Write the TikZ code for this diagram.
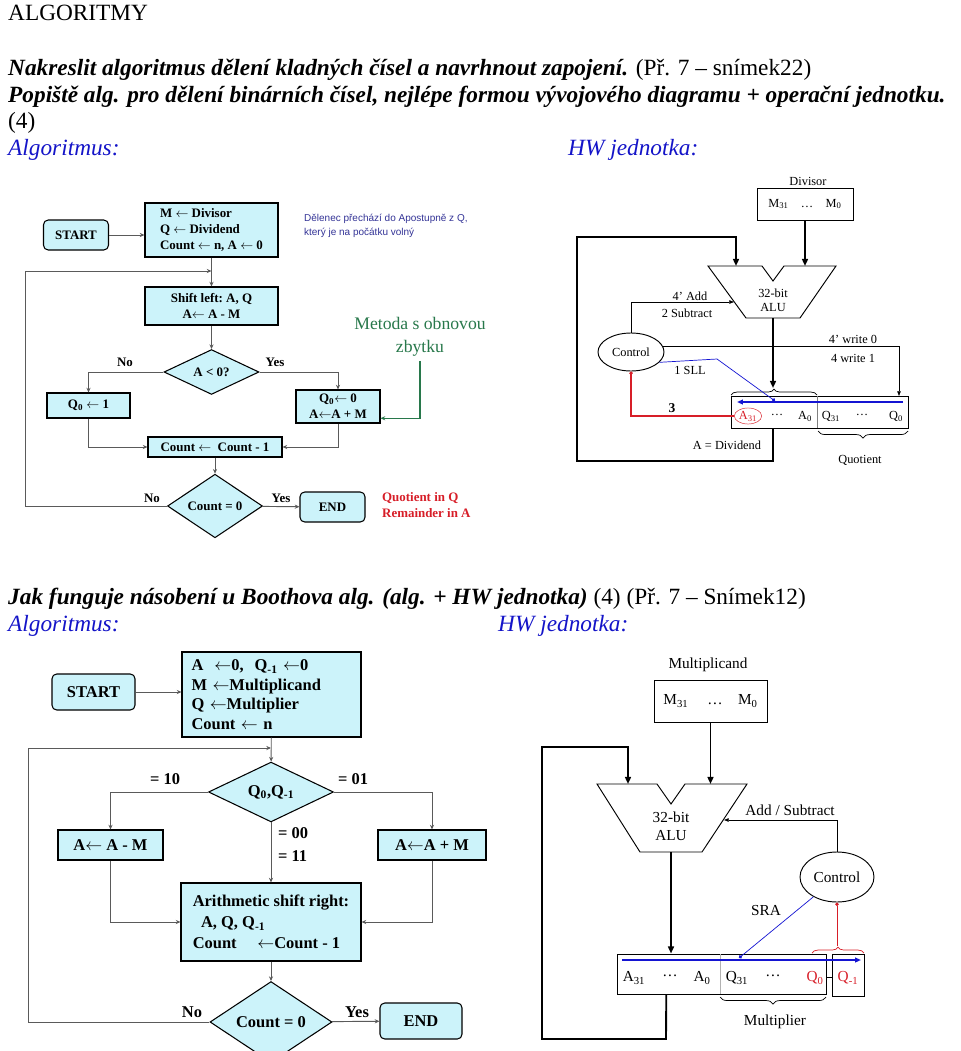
\documentclass[tikz,border=0pt]{standalone}
\usepackage{fontspec}
\setmainfont{Liberation Serif}
\newfontfamily\notefont{Liberation Sans}
\usetikzlibrary{arrows.meta,shapes.geometric,decorations.pathreplacing}

\definecolor{boxfill}{RGB}{204,243,250}
\definecolor{linegray}{RGB}{90,90,90}
\definecolor{headblue}{RGB}{20,20,200}
\definecolor{noteblue}{RGB}{51,51,150}
\definecolor{metgreen}{RGB}{40,120,75}
\definecolor{notered}{RGB}{215,30,40}
\definecolor{shiftblue}{RGB}{20,20,210}

\tikzset{
  head/.style={anchor=base west, inner sep=0pt, font=\fontsize{19.8}{23}\selectfont},
  subhead/.style={anchor=base west, inner sep=0pt, text=headblue, font=\fontsize{19.8}{23}\selectfont\itshape},
  proc/.style={draw, line width=0.9pt, fill=boxfill, inner sep=1pt},
  term/.style={proc, rounded corners=4pt},
  dec/.style={proc, diamond, inner sep=0pt},
  flow/.style={draw=linegray, line width=0.8pt, -{Stealth[length=4pt,width=3.5pt]}},
  bus/.style={line width=1.6pt, -{Triangle[length=6pt,width=5pt]}},
  wire/.style={line width=0.6pt, -{Triangle[length=4pt,width=3pt]}},
  reg/.style={draw, line width=0.8pt, inner sep=0pt},
  ctrl/.style={draw, ellipse, line width=0.8pt, inner sep=0pt},
  alu/.style={draw, line width=0.8pt},
  sz/.style 2 args={minimum width=#1*0.85pt, minimum height=#2*0.85pt},
}

\begin{document}
\begin{tikzpicture}[x=0.85pt,y=-0.85pt]
\useasboundingbox (0,0) rectangle (960,1051);

% headings
\node[head] (title) at (8,20) {ALGORITMY};
\node[head] (task1) at (8,75) {\textbf{\textit{Nakreslit algoritmus dělení kladných čísel a navrhnout zapojení.}} (Př. 7 – snímek22)};
\node[head] (task1b) at (8,102) {\textbf{\textit{Popiště alg. pro dělení binárních čísel, nejlépe formou vývojového diagramu + operační jednotku.}}};
\node[head] (pts1) at (8,128) {(4)};
\node[subhead] (alg1) at (8,155) {Algoritmus:};
\node[subhead] (hw1) at (568,155) {HW jednotka:};

\node[head] (task2) at (8,604) {\textbf{\textit{Jak funguje násobení u Boothova alg. (alg. + HW jednotka)}} (4) (Př. 7 – Snímek12)};
\node[subhead] (alg2) at (8,631) {Algoritmus:};
\node[subhead] (hw2) at (498,631) {HW jednotka:};

% division flowchart
\begin{scope}[font=\bfseries\fontsize{11}{13.5}\selectfont]
\node[term, sz={65}{30}] (start1) at (76,235) {START};
\node[proc, sz={133}{54}, align=left] (init1) at (211.5,230) {M $\leftarrow$ Divisor\\Q $\leftarrow$ Dividend\\Count $\leftarrow$ n, A $\leftarrow$ 0};
\node[proc, sz={133}{38}, align=center] (shift1) at (211.5,306) {Shift left:\ A, Q\\A$\leftarrow$ A - M};
\node[dec, sz={95}{44}] (test1) at (211.5,372) {A < 0?};
\node[proc, sz={83}{25}] (qone) at (88.5,405.5) {Q\textsubscript{0} $\leftarrow$ 1};
\node[proc, sz={84}{33}, align=center] (qzero) at (338,406.5) {Q\textsubscript{0}$\leftarrow$ 0\\A$\leftarrow$A + M};
\node[proc, sz={134}{20}] (dec1) at (215,447) {Count $\leftarrow$ \ Count - 1};
\node[dec, sz={95}{48}] (zero1) at (215,506) {Count = 0};
\node[term, sz={65}{30}] (end1) at (332.5,507) {END};

\node (no1) at (125,362) {No};
\node (yes1) at (275,362) {Yes};
\node (no2) at (152,498) {No};
\node (yes2) at (281,498) {Yes};
\node[text=notered, anchor=west, align=left] (rest1) at (378,505) {Quotient in Q\\Remainder in A};
\end{scope}

\node[text=noteblue, anchor=north west, align=left, font=\notefont\fontsize{8.5}{11.5}\selectfont] (note1) at (300,210) {Dělenec přechází do Apostupně z Q,\\který je na počátku volný};
\node[text=metgreen, align=center, font=\fontsize{15}{20}\selectfont] (metoda) at (420,337) {Metoda s obnovou\\zbytku};

\coordinate (join1) at (211.5,271);
\coordinate (loop1) at (25,271);
\draw[flow] (start1.east) -- (start1.east -| init1.west);
\draw[flow] (init1) -- (shift1);
\draw[flow] (shift1) -- (test1);
\draw[flow] (test1.west) -| (qone.north);
\draw[flow] (test1.east) -| (qzero.north);
\draw[flow] (qone.south) |- (dec1.west);
\draw[flow] (qzero.south) |- (dec1.east);
\draw[flow] (dec1) -- (zero1);
\draw[flow] (zero1) -- (end1);
\draw[flow] (zero1.west) -| (loop1) -- (join1);
\draw[draw=metgreen, line width=1pt, -{Stealth[length=4pt,width=3.5pt]}] (metoda.south) |- ([yshift=-10pt]qzero.east);

% division hardware
\begin{scope}[font=\fontsize{10.5}{12}\selectfont]
\node (divlbl) at (808,181) {Divisor};
\node[reg, sz={96}{32}] (mreg1) at (805,204) {M\textsubscript{31}\quad\ldots\quad M\textsubscript{0}};
\draw[alu] (708,266) -- (762,266) -- (773,281) -- (784,266) -- (836,266) -- (800,318) -- (746,318) -- cycle;
\node[align=center] (alu1) at (773,300) {32-bit\\ALU};
\coordinate (alu1a) at (736,266);
\coordinate (alu1b) at (805,266);
\coordinate (alu1out) at (773,318);
\coordinate (alu1ctl) at (734,302);

\node[reg, sz={177}{32}] (reg1) at (819.5,412) {};
\draw[gray] (817,396) -- (817,428);
\node[draw=notered, ellipse, inner sep=0.5pt, text=notered] (a31) at (748,416) {A\textsubscript{31}};
\node (adots1) at (777,415) {\ldots};
\node (a01) at (805,416) {A\textsubscript{0}};
\node (q311) at (831,416) {Q\textsubscript{31}};
\node (qdots1) at (862,415) {\ldots};
\node (q01) at (896,416) {Q\textsubscript{0}};

\node[ctrl, sz={66}{38}] (ctrl1) at (631,352) {Control};
\coordinate (brA) at (773,388);
\coordinate (wr1) at (899,396);
\coordinate (sll1) at (775,401);

\node (add1) at (690,296) {4' Add};
\node (sub1) at (687,313) {2 Subtract};
\node (w01) at (853,339) {4' write 0};
\node (w11) at (853,358) {4 write 1};
\node (sll1l) at (690,370) {1 SLL};
\node[font=\bfseries\fontsize{11.5}{12}\selectfont] (three1) at (672,408) {3};
\node (divd1) at (727,445) {A = Dividend};
\node (quot1) at (860,460) {Quotient};
\end{scope}

\draw[bus] (mreg1.south -| alu1b) -- (alu1b);
\draw[bus] (alu1out) -- (brA);
\draw[bus] (reg1.south -| alu1out) -- (773,461) -- (577,461) -- (577,237) -| (alu1a);
\draw[line width=0.6pt, decorate, decoration={brace, amplitude=5pt}] (731,395) -- (817,395);
\draw[line width=0.6pt, decorate, decoration={brace, amplitude=6pt}] (908,431) -- (818,431);
\draw[wire] (ctrl1.north) |- (alu1ctl);
\draw[wire] (ctrl1.10) -| (wr1);
\draw[shiftblue, line width=0.6pt, -{Circle[length=3pt]}] (ctrl1.-20) -- (717,359) -- (sll1);
\draw[shiftblue, line width=1.4pt, -{Triangle[length=5pt,width=4pt]}] (903,402) -- (737,402);
\draw[notered, line width=0.9pt, -{Circle[length=3pt]}] (a31.west) -| (ctrl1.south);

% Booth flowchart
\begin{scope}[font=\bfseries\fontsize{14}{16.5}\selectfont]
\node[term, sz={83}{36}] (start2) at (93.5,692) {START};
\node[proc, sz={179}{85}, align=left, text width=136pt] (init2) at (271.5,694.5) {A \ $\leftarrow$0,\ \ Q\textsubscript{-1} $\leftarrow$0\\M $\leftarrow$Multiplicand\\Q $\leftarrow$Multiplier\\Count $\leftarrow$ n};
\node[dec, sz={125}{52}] (test3) at (271,792) {Q\textsubscript{0},Q\textsubscript{-1}};
\node[proc, sz={105}{30}] (subm) at (110.5,845) {A$\leftarrow$ A - M};
\node[proc, sz={108}{30}] (addm) at (432,845) {A$\leftarrow$A + M};
\node[proc, sz={180}{78}, align=left, font=\bfseries\fontsize{14}{18}\selectfont] (asr) at (271,922) {Arithmetic shift right:\\\ \ A, Q, Q\textsubscript{-1}\\Count \quad$\leftarrow$Count - 1};
\node[dec, sz={122}{60}] (zero2) at (271,1022) {Count = 0};
\node[term, sz={82}{36}] (end2) at (421,1021) {END};

\node (c10) at (165,779) {= 10};
\node (c01) at (353,779) {= 01};
\node[anchor=west] (c00) at (274,833) {= 00};
\node[anchor=west] (c11) at (274,856) {= 11};
\node (no3) at (192,1012) {No};
\node (yes3) at (357,1012) {Yes};
\end{scope}

\coordinate (join2) at (271,748);
\coordinate (loop2) at (28,748);
\draw[flow] (start2.east) -- (start2.east -| init2.west);
\draw[flow] (init2) -- (test3);
\draw[flow] (test3.west) -| (subm.north);
\draw[flow] (test3.east) -| (addm.north);
\draw[flow] (test3) -- (asr);
\draw[flow] (subm.south) |- (asr.west);
\draw[flow] (addm.south) |- (asr.east);
\draw[flow] (asr) -- (zero2);
\draw[flow] (zero2) -- (end2);
\draw[flow] (zero2.west) -| (loop2) -- (join2);

% Booth hardware
\begin{scope}[font=\fontsize{13}{15}\selectfont]
\node (mullbl) at (708,665) {Multiplicand};
\node[reg, sz={113}{42}] (mreg2) at (710.5,701) {M\textsubscript{31}\quad\ \ldots\quad M\textsubscript{0}};
\draw[alu] (597,784) -- (657,784) -- (671,804) -- (685,784) -- (747,784) -- (702,852) -- (640,852) -- cycle;
\node[align=center] (alu2) at (671,826) {32-bit\\ALU};
\coordinate (alu2a) at (628,784);
\coordinate (alu2b) at (710.5,784);
\coordinate (alu2out) at (671,852);
\coordinate (alu2ctl) at (724,820);

\node[reg, sz={209}{40}] (reg2) at (721.5,974) {};
\node[reg, sz={32}{42}] (qm1) at (848,975) {};
\draw[gray!60, line width=0.8pt] (720,954) -- (720,994);
\node (a312) at (634,978) {A\textsubscript{31}};
\node (adots2) at (670,976) {\ldots};
\node (a02) at (702,978) {A\textsubscript{0}};
\node (q312) at (737,978) {Q\textsubscript{31}};
\node (qdots2) at (773,976) {\ldots};
\node[text=notered] (q02) at (815,978) {Q\textsubscript{0}};
\node[text=notered] (qm1t) at (848,978) {Q\textsubscript{-1}};

\node[ctrl, sz={74}{50}] (ctrl2) at (837,877) {Control};
\coordinate (brQ) at (837,946);
\coordinate (sra2) at (739,958);

\node (addsub2) at (790,810) {Add / Subtract};
\node (sra2l) at (766,910) {SRA};
\node (mult2) at (775,1022) {Multiplier};
\end{scope}

\draw[bus] (mreg2.south -| alu2b) -- (alu2b);
\draw[bus] (alu2out) -- (alu2out |- reg2.north);
\draw[bus] ([xshift=-4pt]reg2.south -| alu2out) -- (666,1039) -- (542,1039) -- (542,747) -| (alu2a);
\draw[line width=0.6pt] (826,977) -- (832,977);
\draw[wire] (ctrl2.north) |- (alu2ctl);
\draw[shiftblue, line width=0.6pt, -{Circle[length=3pt]}] (ctrl2.220) -- (sra2);
\draw[shiftblue, line width=1.4pt, -{Triangle[length=5pt,width=4pt]}] (622,960) -- (861,960);
\draw[notered, line width=0.8pt, {Circle[length=3pt]}-] (ctrl2.south) -- (brQ);
\draw[notered, line width=0.6pt, decorate, decoration={brace, amplitude=5pt}] (812,953) -- (864,953);
\draw[line width=0.6pt, decorate, decoration={brace, amplitude=6pt}] (826,997) -- (720,997);
\end{tikzpicture}
\end{document}
